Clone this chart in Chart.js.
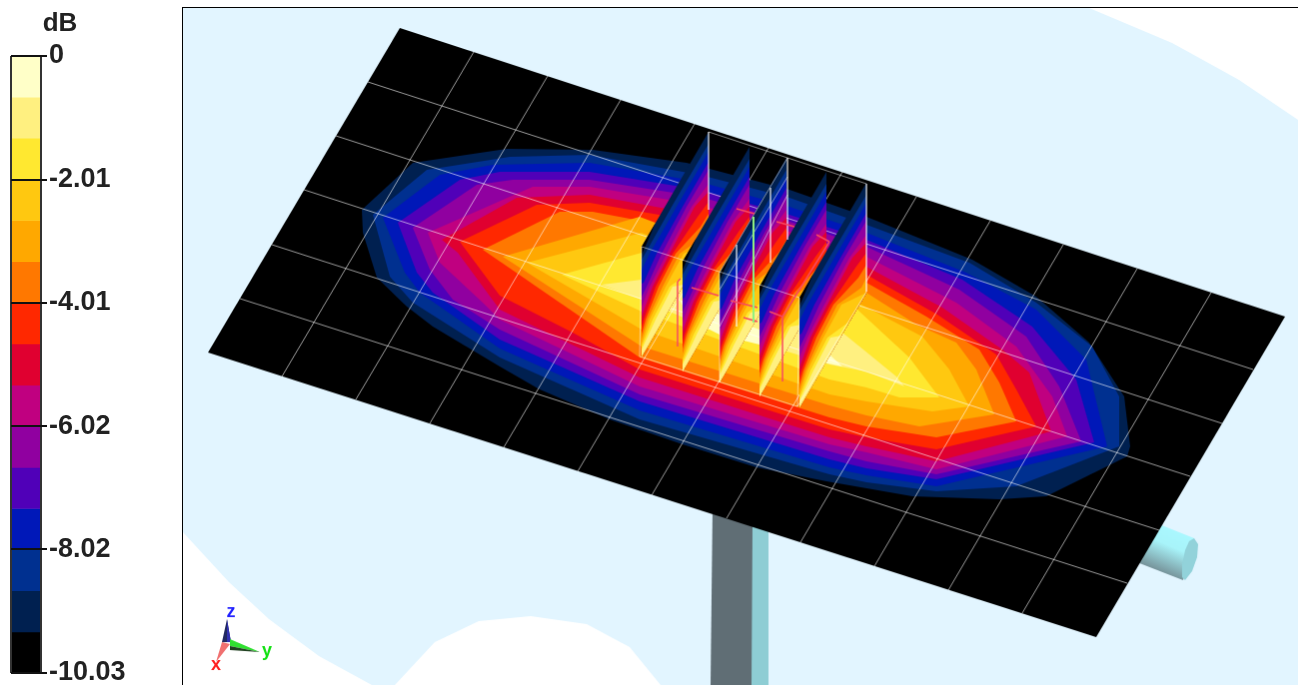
<!DOCTYPE html>
<html>
<head>
<meta charset="utf-8">
<title>dB plot</title>
<script src="https://cdn.jsdelivr.net/npm/chart.js@4"></script>
<style>
  html, body { margin: 0; padding: 0; background: #fff; overflow: hidden; }
  #legend-chart { position: absolute; left: 0; top: 0; }
  #plot-chart { position: absolute; left: 182px; top: 7px; border-left: 1px solid #000; border-top: 1px solid #000; }
</style>
</head>
<body>
<canvas id="legend-chart" width="180" height="686"></canvas>
<canvas id="plot-chart" width="1116" height="678"></canvas>
<script>
// colour bar, top to bottom
const bandColors = ["#FFFFC8", "#FFF080", "#FFE830", "#FFC810", "#FFA800", "#FF7800", "#FF2800", "#E00030",
  "#C00080", "#9000A0", "#5000B8", "#0018B8", "#003090", "#002050", "#000000"];
const bandWidth = 0.6687;
const tickValues = [0, -2.01, -4.01, -6.02, -8.02, -10.03];
const tickLabels = ["0", "-2.01", "-4.01", "-6.02", "-8.02", "-10.03"];

// contour levels on the plate, outermost first
const levelColors = ["#002050", "#003090", "#0018B8", "#5000B8", "#9000A0", "#C00080", "#E00030",
  "#FF2800", "#FF7800", "#FFA800", "#FFC810", "#FFE830", "#FFF080", "#FFFFC8"];

const background = [[183,8],[1090,8],[1173,43],[1240,80],[1299,120],[1299,686],[661,686],[630,648],[587,625],[531,617],[479,622],[435,643],[395,686],[372,686],[319,657],[269,620],[229,583],[183,533]];
const poleGray = [[713,510],[753,525],[752,686],[711,686]];
const poleTeal = [[752,520],[769,530],[769,686],[752,686]];
const cylinderBody = [[1160,525],[1195,539],[1184,581],[1130,560]];
const cylinderCap = [[1195,539],[1199,545],[1198,558],[1193,572],[1186,581],[1183,578],[1183,565],[1186,551],[1190,542]];
const plate = [[400,28],[1286,317],[1097,638],[208,353]];

const contour0 = [[362,210],[413,163],[507,149],[593,150],[687,163],[790,190],[867,217],[973,260],[1037,297],[1090,343],[1125,397],[1131,447],[1128,457],[1047,497],[1000,500],[913,497],[827,482],[757,468],[683,445],[610,420],[540,390],[500,367],[433,327],[407,307],[377,278],[363,233]];
const contour1 = [[373,215],[427,170],[510,157],[590,155],[700,175],[790,198],[867,225],[970,263],[1037,303],[1093,347],[1120,397],[1120,447],[1017,487],[937,492],[867,483],[830,475],[640,420],[500,358],[413,303],[390,277]];
const contour2 = [[383,218],[440,175],[493,165],[590,163],[700,182],[790,207],[867,233],[967,273],[1037,310],[1087,360],[1108,447],[937,487],[867,476],[830,468],[640,411],[500,349],[420,293],[405,273]];
const contour3 = [[398,223],[460,180],[500,172],[590,172],[700,190],[790,215],[867,240],[963,280],[1033,327],[1077,380],[1095,443],[937,480],[867,469],[830,460],[640,402],[500,340],[433,293],[417,273]];
const contour4 = [[413,228],[477,185],[513,180],[590,180],[700,197],[790,222],[867,247],[960,290],[1027,337],[1060,387],[1082,442],[937,475],[867,462],[830,452],[640,395],[500,330],[453,300],[430,270]];
const contour5 = [[428,233],[510,197],[533,187],[590,187],[700,205],[790,232],[867,257],[957,303],[1017,347],[1053,397],[1068,437],[937,470],[867,453],[830,445],[640,387],[500,320],[483,303],[440,263]];
const contour6 = [[442,240],[517,198],[590,195],[700,215],[790,242],[867,267],[943,308],[1003,350],[1030,373],[1052,432],[937,462],[867,447],[830,438],[640,378],[500,310],[458,253]];
const contour7 = [[460,242],[537,205],[590,203],[700,222],[790,250],[867,275],[938,315],[997,355],[1017,390],[1037,427],[937,450],[867,438],[830,430],[640,370],[573,333],[500,296]];
const contour8 = [[483,250],[560,212],[593,212],[700,232],[790,258],[867,283],[927,317],[980,350],[1000,383],[1017,422],[937,438],[867,427],[830,418],[640,358]];
const contour9 = [[503,257],[640,217],[700,240],[790,270],[867,293],[917,325],[957,343],[977,370],[995,415],[920,427],[867,416],[830,406],[642,347]];
const contour10 = [[527,263],[642,233],[700,255],[790,285],[858,303],[923,337],[950,370],[970,407],[933,412],[867,402],[830,395],[642,330]];
const contour11 = [[562,275],[642,253],[700,275],[790,298],[858,310],[910,358],[940,398],[900,398],[867,388],[830,380],[642,312]];
const contour12 = [[602,285],[642,280],[700,295],[790,320],[843,333],[897,377],[905,387],[867,372],[830,365],[700,325],[642,300]];
const contour13a = [[680,300],[720,315],[760,330],[760,345],[720,335],[690,320]];
const contour13b = [[830,355],[843,367],[825,363]];
const plateContours = [contour0, contour1, contour2, contour3, contour4, contour5, contour6, contour7, contour8, contour9, contour10, contour11, contour12];

// grid on the plate: cross lines and long lines, read at the plate edges
const gridCross = [[[282,377],[474,52]],[[356,400],[548,76]],[[430,424],[621,100]],[[504,448],[695,124]],[[578,472],[769,148]],[[652,496],[843,172]],[[727,519],[917,197]],[[801,543],[991,221]],[[875,567],[1064,245]],[[949,591],[1138,269]],[[1023,614],[1212,293]]];
const gridLong = [[[240,299],[1128,584]],[[272,245],[1160,531]],[[304,190],[1191,477]],[[336,136],[1223,424]],[[368,82],[1254,370]]];

// the five upright slices share one contour layout, relative to each front top corner
const sliceCorners = [[642,247],[683,262],[720,273],[760,287],[800,298]];
const sliceOuter = [[0,0],[67,-115],[67,-5],[0,110]];
const sliceSliver = [[0,0],[14,-24],[0,8]];
const sliceBand1 = [[0,13],[4,6],[30,-40],[67,-103],[67,-5],[0,110]];
const sliceBand2 = [[0,23],[8,7],[35,-40],[67,-95],[67,-5],[0,110]];
const sliceBand3 = [[0,37],[2,36],[15,7],[41,-40],[67,-85],[67,-5],[0,110]];
const sliceBand4 = [[0,50],[5,40],[20,7],[45,-40],[67,-77],[67,-5],[0,110]];
const sliceBand5 = [[0,60],[8,40],[25,7],[50,-40],[67,-63],[67,-5],[0,110]];
const sliceBand6 = [[0,70],[11,40],[28,7],[53,-40],[67,-55],[67,-5],[0,110]];
const sliceBand7 = [[0,80],[2,73],[14,40],[31,7],[56,-30],[67,-45],[67,-5],[0,110]];
const sliceBand8 = [[0,87],[4,73],[17,40],[34,7],[59,-20],[67,-33],[67,-5],[0,110]];
const sliceBand9 = [[0,92],[6,73],[21,40],[38,7],[62,-10],[67,-20],[67,-5],[0,110]];
const sliceBand10 = [[0,97],[8,73],[24,40],[42,7],[67,-5],[0,110]];
const sliceBand11 = [[0,100],[11,73],[28,40],[50,24],[0,110]];
const sliceBand12 = [[0,103],[14,73],[31,40],[42,38],[0,110]];
const sliceBands = [sliceBand1, sliceBand2, sliceBand3, sliceBand4, sliceBand5, sliceBand6, sliceBand7, sliceBand8, sliceBand9, sliceBand10, sliceBand11, sliceBand12];

// outline of the device box and the wires inside it
const boxLines = [[[642,247],[800,298]],[[709,132],[867,184]],[[640,357],[798,407]],[[640,357],[642,247]],[[709,132],[709,210]],
  [[720,383],[720,273]],[[720,273],[788,158]],[[788,158],[788,240]],[[720,290],[788,177]],[[720,327],[788,195]],
  [[737,245],[737,327]],[[771,188],[771,263]],[[798,407],[800,298]],[[867,184],[867,292]],[[867,292],[798,407]]];
const wireLines = [[[678,282],[678,347]],[[678,282],[681,279]],[[692,288],[719,296]],[[731,301],[758,308]],[[744,318],[758,322]],
  [[770,312],[783,317]],[[783,317],[783,382]],[[783,317],[830,242]],[[830,242],[817,235]],[[737,209],[755,214]],[[777,222],[795,227]]];
const feedLine = [[754,217],[754,323]];

// small axis triad
const triadZ = [[227,620],[222,643],[231,643]];
const triadZLight = [[227,620],[227,643],[231,643]];
const triadX = [[216,663],[222,643],[230,645]];
const triadY = [[260,653],[230,640],[230,647]];
const triadYDark = [[260,653],[230,647],[230,651]];
const triadTexts = [["z", 231, 613, "#2020FF"], ["y", 267, 652, "#10E010"], ["x", 216, 666, "#FF2020"]];

function toPoints(pts) {
  return pts.map((p) => ({ x: p[0], y: p[1] }));
}

function shape(pts, color) {
  return {
    data: toPoints(pts),
    showLine: true,
    fill: "shape",
    backgroundColor: color,
    borderColor: color,
    borderWidth: 0,
    pointRadius: 0,
  };
}

function line(pts, color, width) {
  return {
    data: toPoints(pts),
    showLine: true,
    fill: false,
    borderColor: color,
    borderWidth: width,
    pointRadius: 0,
  };
}

const datasets = [];
datasets.push(shape(background, "#E2F5FF"));
datasets.push(shape(poleTeal, "#8ECDD4"));
datasets.push(shape(poleGray, "#606E75"));

const cylinderSet = shape(cylinderBody, "#8ECDD4");
cylinderSet.backgroundColor = (ctx) => {
  // canvas starts at 183,8 of the page
  const g = ctx.chart.ctx.createLinearGradient(1177 - 183, 530 - 8, 1157 - 183, 577 - 8);
  g.addColorStop(0, "#AAF8FF");
  g.addColorStop(0.35, "#A8F4FA");
  g.addColorStop(1, "#6C7F86");
  return g;
};
datasets.push(cylinderSet);
datasets.push(shape(cylinderCap, "#92D2DA"));

datasets.push(shape(plate, "#000000"));
plateContours.forEach((c, i) => datasets.push(shape(c, levelColors[i])));
datasets.push(shape(contour13a, levelColors[13]));
datasets.push(shape(contour13b, levelColors[13]));
gridCross.forEach((l) => datasets.push(line(l, "rgba(255,255,255,0.6)", 1)));
gridLong.forEach((l) => datasets.push(line(l, "rgba(255,255,255,0.6)", 1)));

sliceCorners.forEach((corner) => {
  const place = (pts) => pts.map((p) => [corner[0] + p[0], corner[1] + p[1]]);
  datasets.push(shape(place(sliceOuter), levelColors[0]));
  sliceBands.forEach((b, i) => datasets.push(shape(place(b), levelColors[i + 1])));
  datasets.push(shape(place(sliceSliver), "#000000"));
});

boxLines.forEach((l) => datasets.push(line(l, "rgba(255,255,255,0.5)", 1)));
wireLines.forEach((l) => datasets.push(line(l, "#F84860", 1.5)));
datasets.push(line(feedLine, "#90F080", 2));

datasets.push(shape(triadZ, "#202860"));
datasets.push(shape(triadZLight, "#3030B0"));
datasets.push(shape(triadX, "#F07070"));
datasets.push(shape(triadY, "#30E030"));
datasets.push(shape(triadYDark, "#204020"));

// later sets paint over earlier ones
datasets.forEach((d, i) => { d.order = -i; });

const triadLabels = {
  id: "triadLabels",
  afterDraw(chart) {
    const { ctx, scales } = chart;
    ctx.save();
    ctx.font = "bold 18px 'Liberation Sans'";
    ctx.textAlign = "center";
    ctx.textBaseline = "middle";
    triadTexts.forEach((t) => {
      ctx.fillStyle = t[3];
      ctx.fillText(t[0], scales.x.getPixelForValue(t[1]), scales.y.getPixelForValue(t[2]));
    });
    ctx.restore();
  },
};

new Chart(document.getElementById("plot-chart"), {
  type: "scatter",
  data: { datasets },
  plugins: [triadLabels],
  options: {
    responsive: false,
    animation: false,
    layout: { padding: 0 },
    plugins: { legend: { display: false }, tooltip: { enabled: false } },
    scales: {
      x: { type: "linear", display: false, min: 183, max: 1299 },
      y: { type: "linear", display: false, min: 8, max: 686, reverse: true },
    },
  },
});

const legendTitle = {
  id: "legendTitle",
  afterDraw(chart) {
    const { ctx } = chart;
    ctx.save();
    ctx.font = "bold 26px 'Liberation Sans'";
    ctx.fillStyle = "#222";
    ctx.textAlign = "center";
    ctx.textBaseline = "middle";
    ctx.fillText("dB", 60, 24);
    ctx.restore();
  },
};

new Chart(document.getElementById("legend-chart"), {
  type: "bar",
  data: {
    labels: ["dB"],
    datasets: bandColors.map((color) => ({
      data: [-bandWidth],
      backgroundColor: color,
      borderWidth: 0,
      barPercentage: 1,
      categoryPercentage: 1,
    })),
  },
  plugins: [legendTitle],
  options: {
    responsive: false,
    animation: false,
    layout: { padding: { left: 11, top: 56, bottom: 13, right: 0 } },
    plugins: { legend: { display: false }, tooltip: { enabled: false } },
    scales: {
      x: {
        stacked: true,
        ticks: { display: false },
        border: { display: false },
        grid: { offset: true, color: "#333", z: 1, tickLength: 0, lineWidth: 2 },
        afterFit(axis) { axis.height = 0; },
      },
      y: {
        stacked: true,
        position: "right",
        min: -10.03,
        max: 0,
        afterBuildTicks(axis) { axis.ticks = tickValues.map((v) => ({ value: v })); },
        afterFit(axis) {
          axis.width = 139;
          // let the last label run past the bar end
          axis.paddingTop = 0;
          axis.paddingBottom = 0;
        },
        border: { display: false },
        grid: { color: "#111", z: 1, tickLength: 6, lineWidth: 2 },
        ticks: {
          autoSkip: false,
          padding: 2,
          color: "#222",
          crossAlign: "near",
          font: { family: "'Liberation Sans'", size: 27, weight: "bold" },
          callback(value, index) { return tickLabels[index]; },
        },
      },
    },
  },
});
</script>
</body>
</html>
